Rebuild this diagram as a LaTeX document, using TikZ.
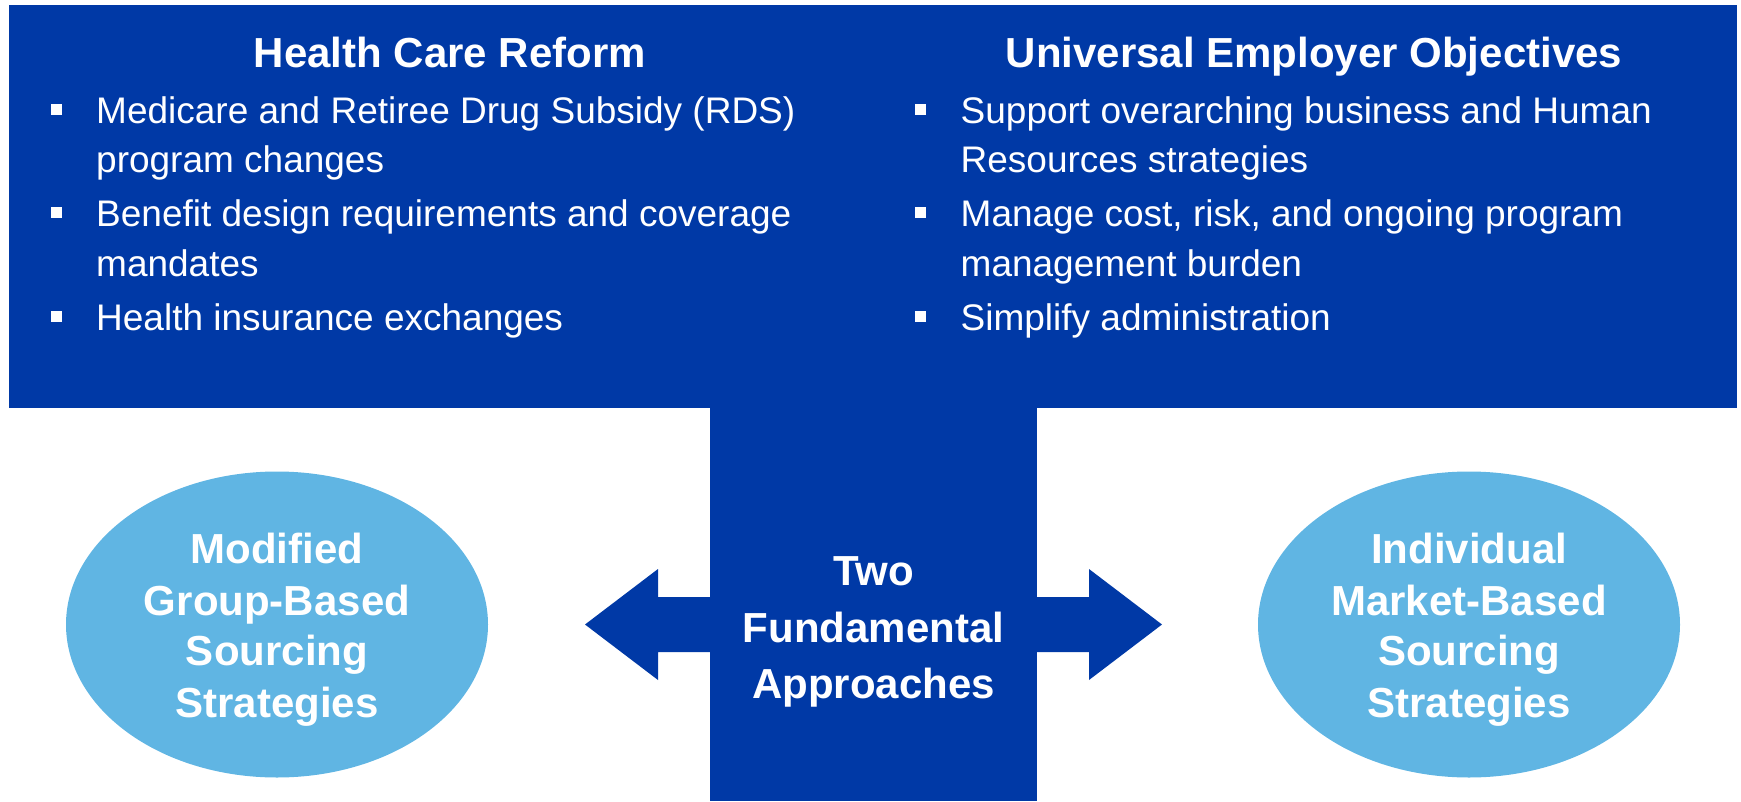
\documentclass[tikz,border=0pt]{standalone}
\usepackage{fontspec}
\setmainfont{Liberation Sans}
\usetikzlibrary{shapes.geometric}
\definecolor{dblue}{RGB}{0,57,166}
\definecolor{lblue}{RGB}{96,181,227}
\tikzset{
  body/.style={anchor=base west, inner sep=0pt, text=white, font=\fontsize{37}{44}\selectfont},
  head/.style={anchor=base, inner sep=0pt, text=white, font=\fontsize{42}{50}\selectfont\bfseries},
  bul/.style={fill=white, minimum size=11pt, inner sep=0pt},
  ovl/.style={ellipse, fill=lblue, minimum width=422pt, minimum height=306pt, inner sep=0pt},
  bigarrow/.style={fill=dblue},
}
\begin{document}
\begin{tikzpicture}[x=1pt,y=-1pt]
\useasboundingbox (0,0) rectangle (1741,801);
% main blue T shape
\fill[dblue] (9,5) rectangle (1737,408);
\fill[dblue] (710,407) rectangle (1037,801);
% arrows
\fill[bigarrow] (711,597) -- (658,597) -- (658,569) -- (585,624.5) -- (658,680) -- (658,652) -- (711,652) -- cycle;
\fill[bigarrow] (1036,597) -- (1089,597) -- (1089,569) -- (1162,624.5) -- (1089,680) -- (1089,652) -- (1036,652) -- cycle;
% ellipses
\node[ovl] (lell) at (277,624.5) {};
\node[ovl] (rell) at (1469,624.5) {};
% titles
\node[head] (t1) at (450,67) {Health Care Reform};
\node[head] (t2) at (1314,67) {Universal Employer Objectives};
% left bullets
\node[bul] (lb1) at (56.5,109.5) {};
\node[bul] (lb2) at (56.5,212.5) {};
\node[bul] (lb3) at (56.5,316.5) {};
\node[body] (l1) at (96,123) {Medicare and Retiree Drug Subsidy (RDS)};
\node[body] (l2) at (96,172) {program changes};
\node[body] (l3) at (96,226) {Benefit design requirements and coverage};
\node[body] (l4) at (96,276) {mandates};
\node[body] (l5) at (96,330) {Health insurance exchanges};
% right bullets
\node[bul] (rb1) at (920,109.5) {};
\node[bul] (rb2) at (920,212.5) {};
\node[bul] (rb3) at (920,316.5) {};
\node[body] (r1) at (960.5,123) {Support overarching business and Human};
\node[body] (r2) at (960.5,172) {Resources strategies};
\node[body] (r3) at (960.5,226) {Manage cost, risk, and ongoing program};
\node[body] (r4) at (960.5,276) {management burden};
\node[body] (r5) at (960.5,330) {Simplify administration};
% center text
\node[head] (c1) at (873.5,585) {Two};
\node[head] (c2) at (873.5,642) {Fundamental};
\node[head] (c3) at (873.5,698) {Approaches};
% left ellipse text
\node[head] (e1) at (277,563) {Modified};
\node[head] (e2) at (277,615) {Group-Based};
\node[head] (e3) at (277,665) {Sourcing};
\node[head] (e4) at (277,717) {Strategies};
% right ellipse text
\node[head] (f1) at (1469,563) {Individual};
\node[head] (f2) at (1469,615) {Market-Based};
\node[head] (f3) at (1469,665) {Sourcing};
\node[head] (f4) at (1469,717) {Strategies};
\end{tikzpicture}
\end{document}
